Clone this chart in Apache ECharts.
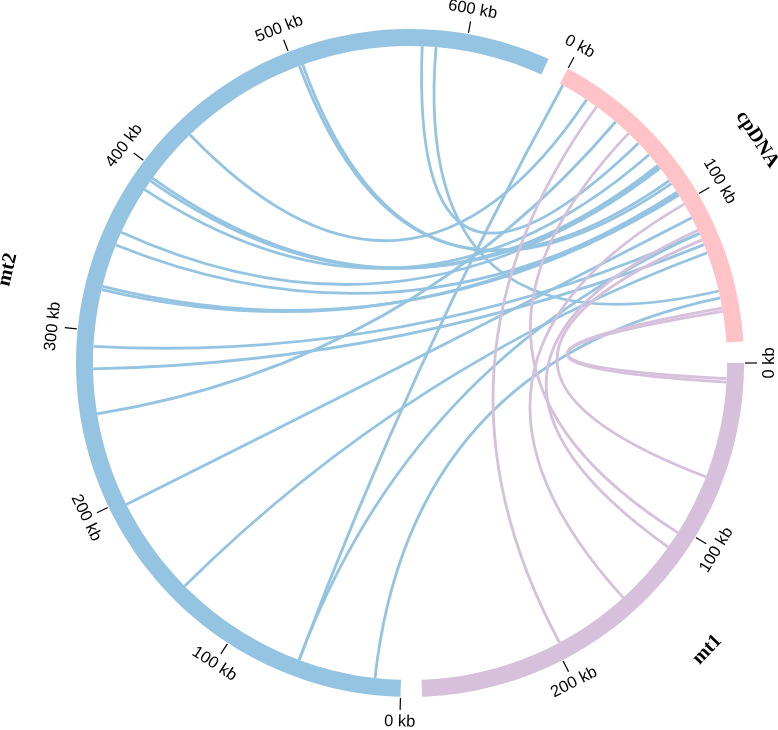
<!DOCTYPE html>
<html><head><meta charset="utf-8">
<script src="https://cdn.jsdelivr.net/npm/echarts@6/dist/echarts.min.js"></script>
<style>html,body{margin:0;padding:0;background:#fff}#c{width:778px;height:730px}</style>
</head><body><div id="c"></div>
<script>
// ---------------- data ----------------
const sectorNames = ['mt1', 'mt2', 'cpDNA'];
const sectorLengthsKb = [280, 646, 185];
const gapKb = 11.8;
const tickStepKb = 100;

// blue links : mt2 position (kb) -> cpDNA position (kb)
const mt2LinkKb  = [15, 60, 60, 139, 197, 252, 278, 291, 324, 326, 351, 359, 387, 393, 395, 428, 503, 505, 575, 583];
const mt2LinkCpKb = [159, 2, 120, 132, 110, 39, 127, 120, 93, 95, 94, 75, 66, 74, 76, 18, 85, 87, 57, 155];

// purple links : cpDNA position (kb) -> mt1 position (kb)
const cpLinkKb   = [25, 49, 101, 118, 124, 165, 167];
const cpLinkMt1Kb = [197, 103, 152, 113, 67, 9, 11];

// ---------------- styles / layout ----------------
const sectorColors = ['#D6C0DB', '#94C4E1', '#FFC2C6'];
const R_OUT = 334, R_IN = 317, R_T0 = 335, R_T1 = 347, R_LAB = 359, R_NAME = 413;
const CENTER = [410, 363];

const offsets = [];
let acc = 0;
sectorLengthsKb.forEach((l, i) => { offsets.push(acc); acc += l + gapKb; });
const TOTAL = acc;

const tickSector = [], tickKb = [];
sectorLengthsKb.forEach((l, i) => {
  for (let k = 0; k <= l; k += tickStepKb) { tickSector.push(i); tickKb.push(k); }
});

function facing(api, u, r) {
  const p = api.coord([r, u]);
  const c = api.coord([0, u]);
  let a = Math.atan2(p[0] - c[0], -(p[1] - c[1])) * 180 / Math.PI;
  a = (a + 360) % 360;
  const rot = (a >= 89.5 && a < 269.5) ? 180 - a : -a;
  return { p, rot: rot * Math.PI / 180 };
}

function ringItem(params, api) {
  const i = params.dataIndex;
  const s = offsets[i], e = s + sectorLengthsKb[i];
  const pts = [];
  const n = 160;
  for (let k = 0; k <= n; k++) pts.push(api.coord([R_OUT, s + (e - s) * k / n]));
  for (let k = n; k >= 0; k--) pts.push(api.coord([R_IN, s + (e - s) * k / n]));
  return { type: 'polygon', shape: { points: pts }, style: { fill: sectorColors[i], stroke: null } };
}

function tickItem(params, api) {
  const i = params.dataIndex;
  const u = offsets[tickSector[i]] + tickKb[i];
  const p0 = api.coord([R_T0, u]), p1 = api.coord([R_T1, u]);
  const f = facing(api, u, R_LAB);
  return { type: 'group', children: [
    { type: 'line', shape: { x1: p0[0], y1: p0[1], x2: p1[0], y2: p1[1] }, style: { stroke: '#000', lineWidth: 1.2 } },
    { type: 'text', x: f.p[0], y: f.p[1], rotation: f.rot,
      style: { text: tickKb[i] + ' kb', fill: '#000', font: '16.5px "Liberation Sans", Arial, sans-serif', align: 'center', verticalAlign: 'middle' } }
  ] };
}

function nameItem(params, api) {
  const i = params.dataIndex;
  const u = offsets[i] + sectorLengthsKb[i] / 2;
  const f = facing(api, u, R_NAME);
  return { type: 'text', x: f.p[0], y: f.p[1], rotation: f.rot,
    style: { text: sectorNames[i], fill: '#000', font: 'bold 20px "Liberation Serif", "Times New Roman", serif', align: 'center', verticalAlign: 'middle' } };
}

function linkMaker(fromSec, fromArr, toSec, toArr, color) {
  return function (params, api) {
    const i = params.dataIndex;
    const u1 = offsets[fromSec] + fromArr[i];
    const u2 = offsets[toSec] + toArr[i];
    const p1 = api.coord([R_IN, u1]), p2 = api.coord([R_IN, u2]), c = api.coord([0, 0]);
    return { type: 'bezierCurve', shape: { x1: p1[0], y1: p1[1], x2: p2[0], y2: p2[1], cpx1: c[0], cpy1: c[1] },
      style: { stroke: color, lineWidth: 2.8, fill: 'none' } };
  };
}

const dummy = n => Array.from({ length: n }, () => [0, 0]);

const chart = echarts.init(document.getElementById('c'), null, { renderer: 'canvas' });
chart.setOption({
  animation: false,
  backgroundColor: '#fff',
  polar: { center: CENTER, radius: [0, R_OUT] },
  angleAxis: { type: 'value', min: 0, max: TOTAL, startAngle: 0, clockwise: true, show: false },
  radiusAxis: { type: 'value', min: 0, max: R_OUT, show: false },
  series: [
    { type: 'custom', coordinateSystem: 'polar', clip: false, silent: true, data: dummy(mt2LinkKb.length),
      renderItem: linkMaker(1, mt2LinkKb, 2, mt2LinkCpKb, sectorColors[1]), z: 1 },
    { type: 'custom', coordinateSystem: 'polar', clip: false, silent: true, data: dummy(cpLinkKb.length),
      renderItem: linkMaker(2, cpLinkKb, 0, cpLinkMt1Kb, sectorColors[0]), z: 2 },
    { type: 'custom', coordinateSystem: 'polar', clip: false, silent: true, data: dummy(sectorNames.length), renderItem: ringItem, z: 3 },
    { type: 'custom', coordinateSystem: 'polar', clip: false, silent: true, data: dummy(tickKb.length), renderItem: tickItem, z: 4 },
    { type: 'custom', coordinateSystem: 'polar', clip: false, silent: true, data: dummy(sectorNames.length), renderItem: nameItem, z: 4 }
  ]
});
</script></body></html>
